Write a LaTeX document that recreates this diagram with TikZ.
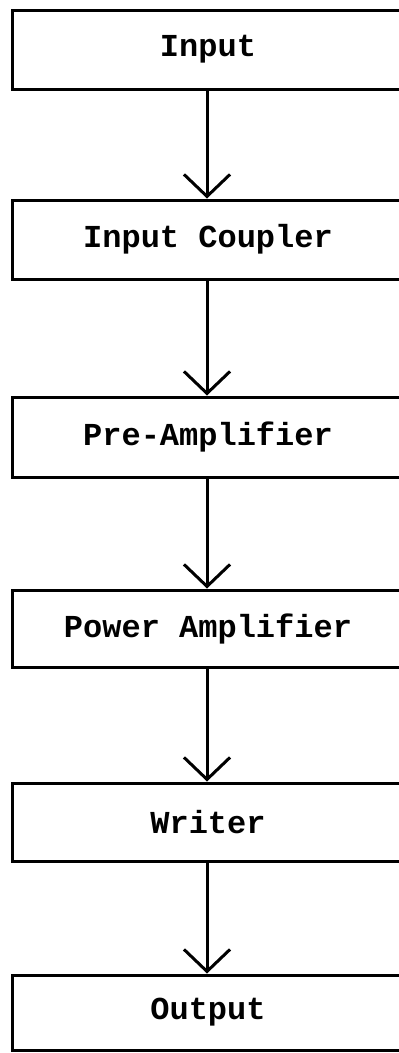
\documentclass[tikz,border=0pt]{standalone}
\usepackage{fontspec}
\setmainfont{Liberation Mono}
\usetikzlibrary{arrows.meta}
\begin{document}
\begin{tikzpicture}[x=1pt,y=-1pt,
  stage/.style={draw, line width=3pt, rectangle, minimum width=392pt,
    inner sep=0pt, font=\fontsize{32}{38}\selectfont\bfseries},
  flow/.style={line width=3pt,
    -{Straight Barb[length=22pt,width=46pt,line width=3pt]}}]
  \useasboundingbox (0,0) rectangle (399,1053);
  \clip (0,0) rectangle (399,1053);
  % processing chain, top to bottom
  \node[stage, minimum height=79pt] (in)    at (208,49.5)  {Input};
  \node[stage, minimum height=79pt] (coup)  at (208,239.5) {Input Coupler};
  \node[stage, minimum height=80pt] (pre)   at (208,437)   {Pre-Amplifier};
  \node[stage, minimum height=77pt] (power) at (208,628.5) {Power Amplifier};
  \node[stage, minimum height=78pt] (wr)    at (208,822)   {Writer};
  \node[stage, minimum height=75pt] (out)   at (208,1012.5){Output};
  % signal flow
  \draw[flow] ([xshift=-1pt]in.south)    -- ([xshift=-1pt]coup.north);
  \draw[flow] ([xshift=-1pt]coup.south)  -- ([xshift=-1pt]pre.north);
  \draw[flow] ([xshift=-1pt]pre.south)   -- ([xshift=-1pt]power.north);
  \draw[flow] ([xshift=-1pt]power.south) -- ([xshift=-1pt]wr.north);
  \draw[flow] ([xshift=-1pt]wr.south)    -- ([xshift=-1pt]out.north);
\end{tikzpicture}
\end{document}
